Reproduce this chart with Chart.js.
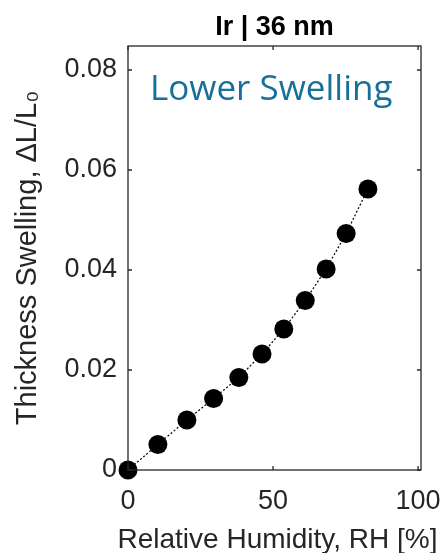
<!DOCTYPE html>
<html>
<head>
<meta charset="utf-8">
<script src="https://cdn.jsdelivr.net/npm/chart.js@4/dist/chart.umd.min.js"></script>
<style>
  html, body { margin: 0; padding: 0; background: #ffffff; }
  #wrap { width: 443px; height: 553px; }
</style>
</head>
<body>
<div id="wrap"><canvas id="c" width="443" height="553"></canvas></div>
<script>
// ---- data ----
const humidity = [0, 10.3, 20.3, 29.5, 38.2, 46.2, 53.7, 61.1, 68.3, 75.2, 82.7];
const swelling = [0, 0.0051, 0.0100, 0.0143, 0.0185, 0.0232, 0.0282, 0.0339, 0.0402, 0.0473, 0.0562];
const xTicks = [0, 50, 100];
const yTicks = [0, 0.02, 0.04, 0.06, 0.08];
const yTickLabels = ['0', '0.02', '0.04', '0.06', '0.08'];
const chartTitle = 'Ir | 36 nm';
const annotationText = 'Lower Swelling';
const xTitle = 'Relative Humidity, RH [%]';
const yTitle = 'Thickness Swelling, \u0394L/L\u2080';

const axisColor = '#262626';
const FONT = '"Liberation Sans", Arial, Helvetica, sans-serif';

const framePlugin = {
  id: 'frame',
  afterDatasetsDraw(chart) {
    const ctx = chart.ctx;
    const a = chart.chartArea;
    const xs = chart.scales.x, ys = chart.scales.y;
    ctx.save();
    ctx.strokeStyle = axisColor;
    ctx.lineWidth = 1.3;
    ctx.strokeRect(a.left, a.top, a.right - a.left, a.bottom - a.top);
    const tl = 4;
    ctx.beginPath();
    xTicks.forEach(v => {
      const px = xs.getPixelForValue(v);
      ctx.moveTo(px, a.bottom); ctx.lineTo(px, a.bottom - tl);
      ctx.moveTo(px, a.top); ctx.lineTo(px, a.top + tl);
    });
    yTicks.forEach(v => {
      const py = ys.getPixelForValue(v);
      ctx.moveTo(a.left, py); ctx.lineTo(a.left + tl, py);
      ctx.moveTo(a.right, py); ctx.lineTo(a.right - tl, py);
    });
    ctx.stroke();
    ctx.restore();
  },
  afterDraw(chart) {
    const ctx = chart.ctx;
    const a = chart.chartArea;
    ctx.save();
    // chart title
    ctx.fillStyle = '#000000';
    ctx.font = 'bold 27px ' + FONT;
    ctx.textAlign = 'center';
    ctx.textBaseline = 'middle';
    ctx.fillText(chartTitle, (a.left + a.right) / 2, 28);
    // x axis title (drawn here so it may be wider than the plot area)
    ctx.fillStyle = axisColor;
    ctx.font = '28px ' + FONT;
    ctx.textAlign = 'center';
    ctx.textBaseline = 'alphabetic';
    ctx.fillText(xTitle, (a.left + a.right) / 2 + 3, 548);
    // annotation
    ctx.fillStyle = '#17709a';
    ctx.font = '35px "Open Sans", "Noto Sans", sans-serif';
    ctx.textAlign = 'left';
    ctx.fillText(annotationText, a.left + 22, 100);
    ctx.restore();
  }
};

new Chart(document.getElementById('c'), {
  type: 'line',
  data: {
    datasets: [{
      data: humidity.map((x, i) => ({ x: x, y: swelling[i] })),
      borderColor: '#000000',
      borderWidth: 1.2,
      borderDash: [2, 2],
      backgroundColor: '#000000',
      pointBackgroundColor: '#000000',
      pointBorderColor: '#000000',
      pointRadius: 9.5,
      pointBorderWidth: 0,
      tension: 0,
      clip: false
    }]
  },
  options: {
    responsive: false,
    animation: false,
    events: [],
    layout: { padding: { top: 46, right: 22, left: 0, bottom: 0 } },
    plugins: {
      legend: { display: false },
      tooltip: { enabled: false },
      title: { display: false }
    },
    scales: {
      x: {
        type: 'linear',
        min: 0,
        max: 101,
        afterBuildTicks(scale) { scale.ticks = xTicks.map(v => ({ value: v })); },
        afterFit(scale) { scale.height = 83; scale.paddingLeft = 0; scale.paddingRight = 0; },
        grid: { display: false, drawTicks: false },
        border: { display: false },
        ticks: {
          color: axisColor,
          font: { family: FONT, size: 27, lineHeight: 1.2 },
          padding: 15,
          maxRotation: 0,
          autoSkip: false,
          callback: (v) => String(v)
        },
        title: { display: false }
      },
      y: {
        type: 'linear',
        min: 0,
        max: 0.0848,
        afterBuildTicks(scale) { scale.ticks = yTicks.map(v => ({ value: v })); },
        afterFit(scale) { scale.width = 128; scale.paddingTop = 0; scale.paddingBottom = 0; },
        grid: { display: false, drawTicks: false },
        border: { display: false },
        ticks: {
          color: axisColor,
          font: { family: FONT, size: 27, lineHeight: 1.2 },
          padding: 11,
          autoSkip: false,
          callback: (v) => {
            const i = yTicks.findIndex(t => Math.abs(t - v) < 1e-9);
            return i >= 0 ? yTickLabels[i] : '';
          }
        },
        title: {
          display: true,
          text: yTitle,
          color: axisColor,
          font: { family: FONT, size: 29, lineHeight: 1 },
          padding: { top: 13, bottom: 0 }
        }
      }
    }
  },
  plugins: [framePlugin]
});
</script>
</body>
</html>
